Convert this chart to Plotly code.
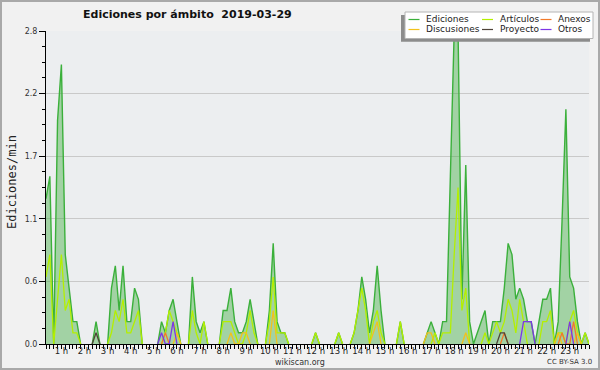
import plotly.graph_objects as go

# 10-minute bins, first bin at 00:20, values in edits per minute
inicio_min = 20
paso_min = 10

ediciones = [
    1.3, 1.5, 0, 2.0, 2.5, 0.8, 0.5, 0.2, 0.2, 0,
    0, 0, 0, 0.2, 0, 0, 0, 0.5, 0.7, 0.3,
    0.7, 0.2, 0.2, 0.5, 0.4, 0, 0, 0, 0, 0,
    0.2, 0.1, 0.3, 0.4, 0.2, 0, 0, 0, 0.6, 0.2,
    0.1, 0.2, 0, 0, 0, 0, 0.3, 0.3, 0.5, 0.2,
    0.1, 0.1, 0.2, 0.4, 0.2, 0, 0, 0, 0.3, 0.9,
    0.2, 0.1, 0.1, 0, 0, 0, 0, 0, 0, 0,
    0.1, 0, 0, 0, 0, 0, 0.1, 0, 0, 0,
    0.1, 0.3, 0.6, 0.4, 0.1, 0.3, 0.7, 0.3, 0, 0,
    0, 0, 0.2, 0, 0, 0, 0, 0, 0, 0.1,
    0.2, 0.1, 0, 0.2, 0.2, 1.5, 2.8, 2.8, 0.4, 1.6,
    0.2, 0, 0.1, 0.2, 0.3, 0, 0.2, 0.2, 0.2, 0.5,
    0.9, 0.8, 0.4, 0.5, 0.4, 0.2, 0.2, 0, 0.2, 0.4,
    0.4, 0.5, 0, 0.2, 1.1, 2.1, 0.6, 0.5, 0.2, 0,
    0.1, 0,
]
articulos = [
    0.6, 0.8, 0, 0.4, 0.8, 0.3, 0.4, 0.1, 0.1, 0,
    0, 0, 0, 0, 0, 0, 0, 0.1, 0.3, 0.2,
    0.4, 0.1, 0.1, 0.2, 0.3, 0, 0, 0, 0, 0,
    0, 0.1, 0.3, 0.2, 0.1, 0, 0, 0, 0.3, 0.1,
    0, 0.2, 0, 0, 0, 0, 0.2, 0.2, 0.2, 0.1,
    0, 0, 0.1, 0.3, 0.1, 0, 0, 0, 0.2, 0.6,
    0.1, 0.1, 0.1, 0, 0, 0, 0, 0, 0, 0,
    0.1, 0, 0, 0, 0, 0, 0.1, 0, 0, 0,
    0.1, 0.3, 0.5, 0.3, 0, 0.2, 0.3, 0.1, 0, 0,
    0, 0, 0.2, 0, 0, 0, 0, 0, 0, 0,
    0, 0.1, 0, 0.1, 0.1, 0.1, 0.8, 1.4, 0.3, 0.5,
    0, 0, 0, 0, 0.1, 0, 0.1, 0.2, 0.1, 0.2,
    0.4, 0.3, 0.1, 0.4, 0.2, 0, 0, 0, 0, 0.2,
    0.2, 0.3, 0, 0.1, 0.1, 0, 0.2, 0.3, 0.1, 0,
    0.1, 0,
]
anexos = [
    0, 0, 0, 0, 0, 0, 0, 0, 0, 0,
    0, 0, 0, 0, 0, 0, 0, 0, 0, 0,
    0, 0, 0, 0, 0, 0, 0, 0, 0, 0,
    0, 0.1, 0, 0, 0, 0, 0, 0, 0, 0,
    0, 0, 0, 0, 0, 0, 0, 0, 0, 0,
    0, 0, 0, 0, 0, 0, 0, 0, 0, 0,
    0, 0, 0, 0, 0, 0, 0, 0, 0, 0,
    0, 0, 0, 0, 0, 0, 0, 0, 0, 0,
    0, 0, 0, 0, 0, 0, 0, 0, 0, 0,
    0, 0, 0, 0, 0, 0, 0, 0, 0, 0,
    0, 0, 0, 0, 0, 0, 0, 0, 0, 0,
    0, 0, 0, 0, 0, 0, 0, 0, 0, 0.1,
    0, 0, 0, 0, 0, 0, 0, 0, 0, 0,
    0, 0, 0, 0, 0.1, 0, 0, 0.2, 0, 0,
    0, 0,
]
discusiones = [
    0, 0, 0, 0, 0, 0, 0, 0, 0, 0,
    0, 0, 0, 0, 0, 0, 0, 0, 0, 0,
    0, 0, 0, 0, 0, 0, 0, 0, 0, 0,
    0, 0, 0, 0, 0.1, 0, 0, 0, 0, 0,
    0, 0, 0, 0, 0, 0, 0, 0, 0.1, 0,
    0, 0.1, 0.1, 0, 0, 0, 0, 0, 0, 0.3,
    0, 0, 0, 0, 0, 0, 0, 0, 0, 0,
    0, 0, 0, 0, 0, 0, 0, 0, 0, 0,
    0, 0, 0, 0, 0, 0.1, 0.2, 0, 0, 0,
    0, 0, 0, 0, 0, 0, 0, 0, 0, 0.1,
    0.1, 0, 0, 0, 0, 0, 0, 0, 0, 0.1,
    0, 0, 0, 0, 0, 0, 0, 0, 0, 0,
    0, 0, 0, 0, 0, 0, 0, 0, 0, 0,
    0, 0, 0, 0.1, 0, 0, 0, 0, 0.1, 0,
    0, 0,
]
proyecto = [
    0, 0, 0, 0, 0, 0, 0, 0, 0, 0,
    0, 0, 0, 0.1, 0, 0, 0, 0, 0, 0,
    0, 0, 0, 0, 0, 0, 0, 0, 0, 0,
    0, 0, 0, 0, 0, 0, 0, 0, 0, 0,
    0, 0, 0, 0, 0, 0, 0, 0, 0, 0,
    0, 0, 0, 0, 0, 0, 0, 0, 0, 0,
    0, 0, 0, 0, 0, 0, 0, 0, 0, 0,
    0, 0, 0, 0, 0, 0, 0, 0, 0, 0,
    0, 0, 0, 0, 0, 0, 0, 0, 0, 0,
    0, 0, 0, 0, 0, 0, 0, 0, 0, 0,
    0, 0, 0, 0, 0, 0, 0, 0, 0, 0,
    0, 0, 0, 0, 0, 0, 0, 0, 0.1, 0.1,
    0, 0, 0, 0, 0, 0, 0, 0, 0, 0,
    0, 0, 0, 0, 0, 0, 0, 0, 0, 0,
    0, 0,
]
otros = [
    0, 0, 0, 0, 0, 0, 0, 0, 0, 0,
    0, 0, 0, 0, 0, 0, 0, 0, 0, 0,
    0, 0, 0, 0, 0, 0, 0, 0, 0, 0,
    0.1, 0, 0, 0.2, 0, 0, 0, 0, 0, 0,
    0, 0, 0, 0, 0, 0, 0, 0, 0, 0,
    0, 0, 0, 0, 0, 0, 0, 0, 0, 0,
    0, 0, 0, 0, 0, 0, 0, 0, 0, 0,
    0, 0, 0, 0, 0, 0, 0, 0, 0, 0,
    0, 0, 0, 0, 0, 0, 0, 0, 0, 0,
    0, 0, 0, 0, 0, 0, 0, 0, 0, 0,
    0, 0, 0, 0, 0, 0, 0, 0, 0, 0,
    0, 0, 0, 0, 0, 0, 0, 0, 0, 0,
    0, 0, 0, 0, 0.2, 0.2, 0.2, 0, 0, 0,
    0, 0, 0, 0, 0, 0, 0.2, 0, 0, 0,
    0, 0,
]

horas = [(inicio_min + paso_min * i) / 60 for i in range(len(ediciones))]

colores = {
    "Ediciones": "#3bb03b",
    "Artículos": "#b4ef00",
    "Anexos": "#f27a2a",
    "Discusiones": "#f2c21c",
    "Proyecto": "#4f4438",
    "Otros": "#7d36e6",
}


def sin_ceros(vals):
    """Hide runs of zeros lying on the axis (keep zeros next to a non-zero)."""
    n = len(vals)
    out = []
    for i, v in enumerate(vals):
        keep = v != 0 or (i > 0 and vals[i - 1] != 0) or (i < n - 1 and vals[i + 1] != 0)
        out.append(v if keep else None)
    return out


fig = go.Figure()
fig.add_trace(go.Scatter(
    x=horas, y=ediciones, mode="lines", fill="tozeroy",
    fillcolor="rgba(60,172,60,0.42)", line=dict(color="rgba(0,0,0,0)", width=0),
    hoverinfo="skip", showlegend=False))
fig.add_trace(go.Scatter(
    x=horas, y=sin_ceros(ediciones), mode="lines", name="Ediciones",
    line=dict(color=colores["Ediciones"], width=1.4), showlegend=False))
for nombre, serie in [("Artículos", articulos), ("Discusiones", discusiones),
                      ("Anexos", anexos), ("Proyecto", proyecto), ("Otros", otros)]:
    fig.add_trace(go.Scatter(
        x=horas, y=sin_ceros(serie), mode="lines", name=nombre,
        line=dict(color=colores[nombre], width=1.3), showlegend=False))

W, H = 600, 370
L, R, T, B = 46, 11, 31, 26
PW, PH = W - L - R, H - T - B


def px(xp):
    return (xp - L) / PW


def py(yp):
    return (H - B - yp) / PH


font = "DejaVu Sans"
annotations = [
    dict(text="<b>Ediciones por ámbito\u00a0 2019-03-29</b>", x=px(187.5), y=py(14.5),
         font=dict(family=font, size=11, color="#111")),
    dict(text="Ediciones/min", x=px(12), y=py(182), textangle=-90,
         font=dict(family="DejaVu Sans Mono", size=12, color="#222")),
    dict(text="wikiscan.org", x=px(300), y=py(362),
         font=dict(family=font, size=8, color="#333")),
    dict(text="CC BY-SA 3.0", x=px(569), y=py(362),
         font=dict(family=font, size=7, color="#333")),
]
for a in annotations:
    a.update(xref="paper", yref="paper", showarrow=False, xanchor="center", yanchor="middle")

shapes = [
    dict(type="rect", x0=px(401), x1=px(590), y0=py(41.7), y1=py(15),
         fillcolor="#8c8c8c", line=dict(width=0)),
    dict(type="rect", x0=px(405), x1=px(593), y0=py(38.5), y1=py(12),
         fillcolor="#ffffff", line=dict(color="#b4b4b4", width=1)),
    dict(type="rect", x0=px(1), x1=px(599), y0=py(369), y1=py(1),
         line=dict(color="#a9a9a9", width=2), fillcolor="rgba(0,0,0,0)"),
]
leyenda = [("Ediciones", 408.5, 19.5), ("Artículos", 482, 19.5), ("Anexos", 540.5, 19.5),
           ("Discusiones", 408.5, 29.5), ("Proyecto", 482, 29.5), ("Otros", 540.5, 29.5)]
for nombre, x0, yrow in leyenda:
    shapes.append(dict(type="line", x0=px(x0), x1=px(x0 + 11), y0=py(yrow), y1=py(yrow),
                       line=dict(color=colores[nombre], width=1.2)))
    annotations.append(dict(text=nombre, x=px(x0 + 15.5), y=py(yrow - 0.5), xref="paper", yref="paper",
                            showarrow=False, xanchor="left", yanchor="middle",
                            font=dict(family=font, size=9, color="#222")))
for s in shapes:
    s.update(xref="paper", yref="paper", layer="above")

fig.update_layout(
    width=W, height=H, autosize=False,
    margin=dict(l=L, r=R, t=T, b=B, pad=0),
    paper_bgcolor="#f1f1f1", plot_bgcolor="#eceef0",
    showlegend=False,
    annotations=annotations, shapes=shapes,
    xaxis=dict(
        range=[inicio_min / 60, (inicio_min + paso_min * (len(ediciones) - 1)) / 60],
        tick0=0, dtick=1, ticksuffix=" h",
        ticks="outside", ticklen=4, tickwidth=1, tickcolor="#000",
        showline=True, linecolor="#000", linewidth=1,
        showgrid=False, zeroline=False,
        tickfont=dict(family=font, size=8.5, color="#222"),
        ticklabelstandoff=-5,
        minor=dict(tick0=0, dtick=1 / 6, ticks="outside", ticklen=4, tickwidth=1,
                   tickcolor="#000", showgrid=False),
        fixedrange=True,
    ),
    yaxis=dict(
        range=[0, 2.8000001],
        tick0=0, dtick=0.56, tickformat=".1f",
        ticks="outside", ticklen=6, tickwidth=1, tickcolor="#000",
        showline=True, linecolor="#000", linewidth=1,
        showgrid=True, gridcolor="#c9c9c9", gridwidth=1, zeroline=False,
        tickfont=dict(family=font, size=8, color="#333"),
        minor=dict(tick0=0, dtick=0.14, ticks="outside", ticklen=3, tickwidth=1,
                   tickcolor="#000", showgrid=False),
        fixedrange=True,
    ),
)

fig.write_html("out.html", config=dict(displayModeBar=False),
               post_script="document.body.style.margin='0';document.body.style.padding='0';")
